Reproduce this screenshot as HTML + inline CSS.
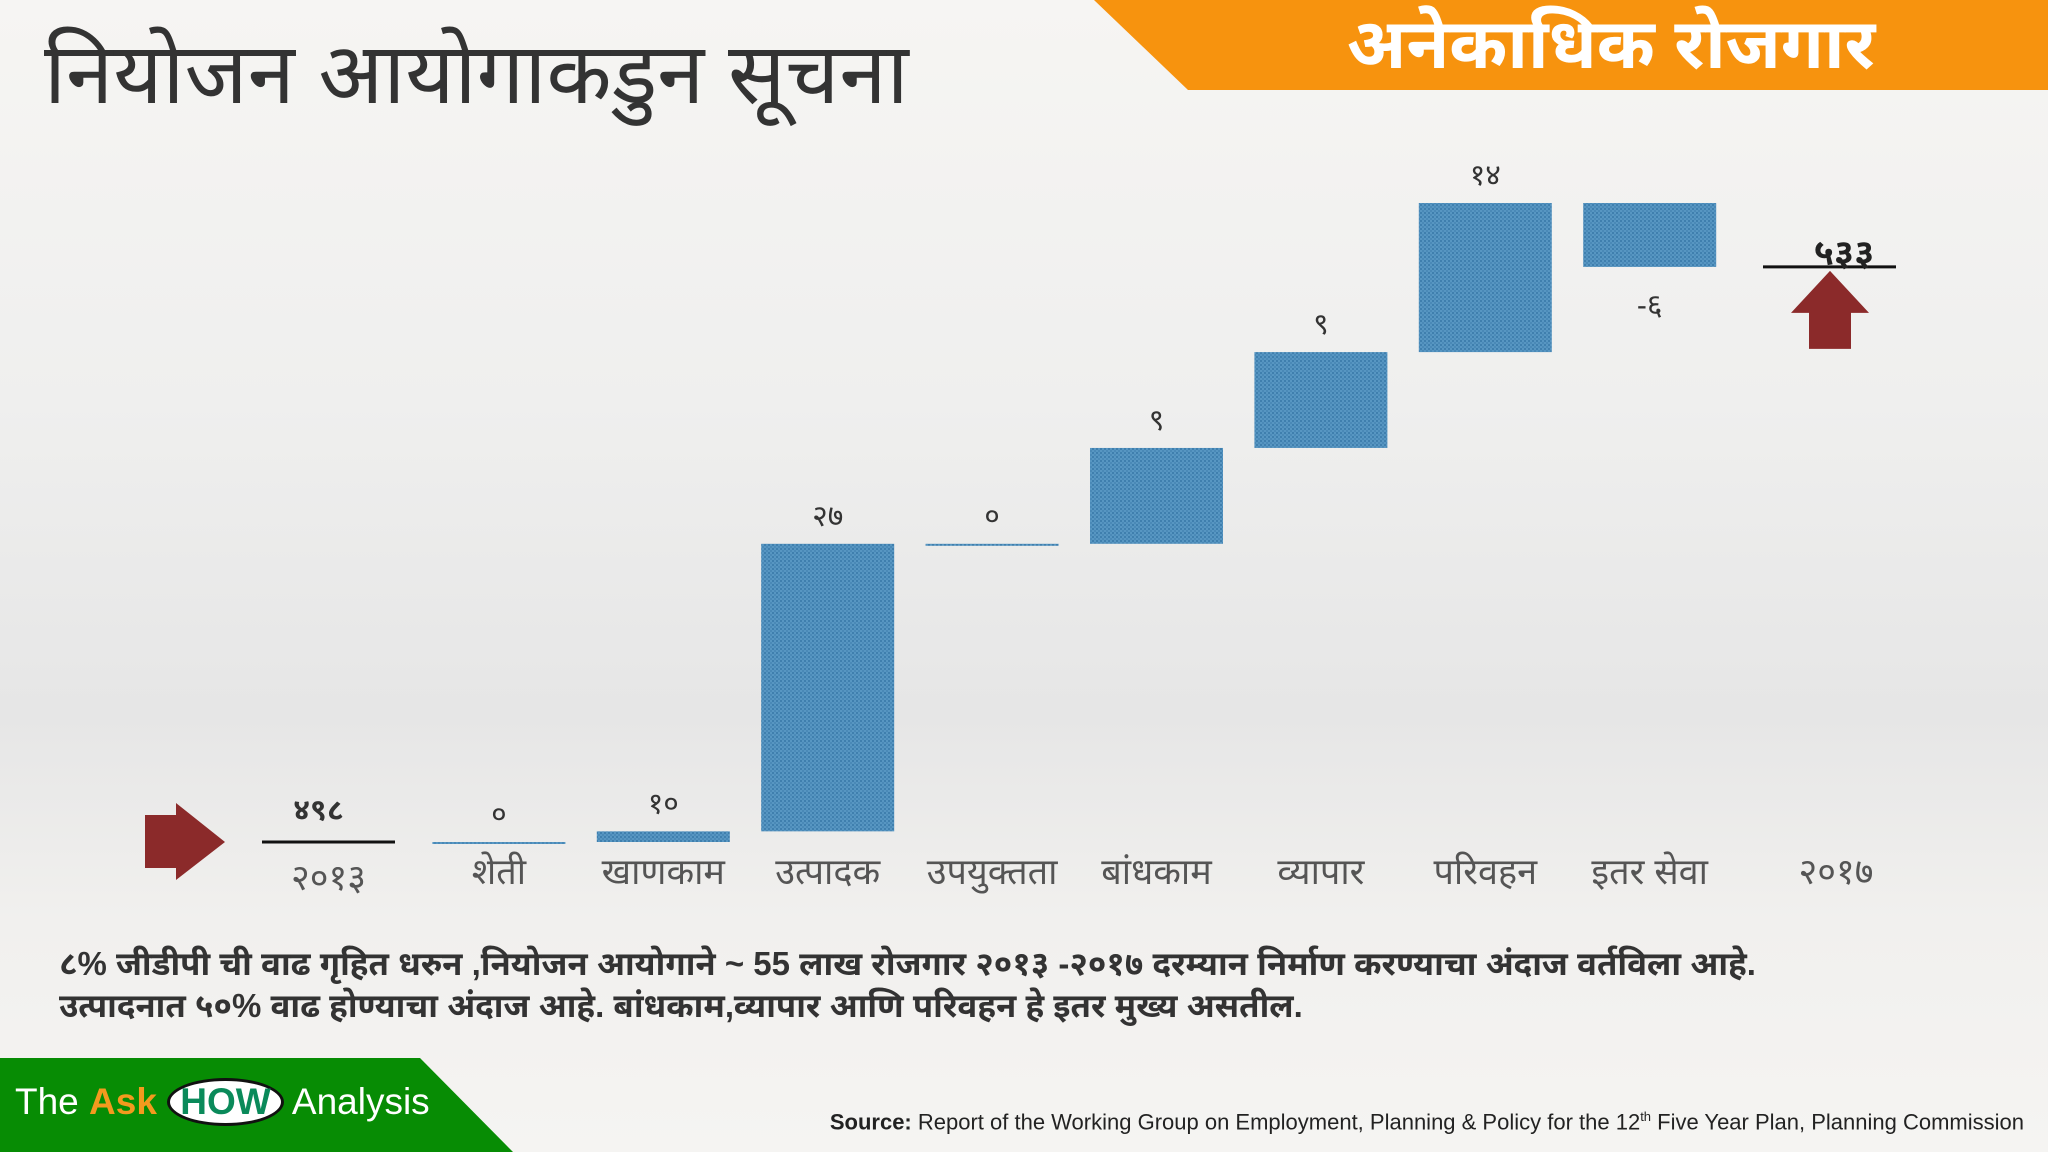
<!DOCTYPE html>
<html><head><meta charset="utf-8">
<style>
html,body{margin:0;padding:0}
body{width:2048px;height:1152px;overflow:hidden;position:relative;
background:linear-gradient(to bottom,#f6f5f3 0%,#efefee 35%,#e6e6e6 62%,#f1f0ee 80%,#f5f4f2 100%);
font-family:"Liberation Sans","Noto Sans Devanagari","Lohit Devanagari","FreeSans","Noto Sans CJK SC",sans-serif;}
.abs{position:absolute}
</style></head><body>
<div class="abs" style="left:44px;top:26px;font-size:85px;color:#333;white-space:nowrap">नियोजन आयोगाकडुन सूचना</div>
<svg class="abs" style="left:0;top:0" width="2048" height="1152">
<defs>
<pattern id="tex" width="4" height="4" patternUnits="userSpaceOnUse">
<rect width="4" height="4" fill="#5796c2"/>
<rect width="2" height="2" fill="#3f7fae"/>
<rect x="2" y="2" width="2" height="2" fill="#4a89b7"/>
</pattern>
</defs>
<polygon points="1094,0 2048,0 2048,90 1188,90" fill="#f7930e"/>
<text x="1611" y="68" font-size="70" font-weight="bold" fill="#fff" text-anchor="middle" font-family="Liberation Sans, Noto Sans Devanagari, FreeSans, sans-serif">अनेकाधिक रोजगार</text>
<polygon points="145,815 176,815 176,803 225,842 176,880 176,868 145,868" fill="#8b2a2a"/>
<g id="bars"></g>
<polygon points="0,1058 420,1058 513,1152 0,1152" fill="#078c04"/>
</svg>
<div class="abs" style="left:15px;top:1078px;font-size:37px;color:#fff;white-space:nowrap;font-family:'Liberation Sans',sans-serif">The <b style="color:#f39a1e">Ask</b> <span style="display:inline-block;background:#fff;color:#0a8a5a;border:3px solid #111;border-radius:50%;padding:0 10px;font-weight:bold">HOW</span> Analysis</div>
<div class="abs" style="left:59px;top:943px;font-size:33px;font-weight:bold;color:#333;line-height:42px;white-space:nowrap">८% जीडीपी ची वाढ गृहित धरुन ,नियोजन आयोगाने ~ 55 लाख रोजगार २०१३ -२०१७ दरम्यान निर्माण करण्याचा अंदाज वर्तविला आहे.<br>उत्पादनात ५०% वाढ होण्याचा अंदाज आहे. बांधकाम,व्यापार आणि परिवहन हे इतर मुख्य असतील.</div>
<div class="abs" style="right:24px;top:1109px;font-size:22px;color:#222;white-space:nowrap;font-family:'Liberation Sans',sans-serif"><b>Source:</b> Report of the Working Group on Employment, Planning &amp; Policy for the 12<sup style="font-size:13px">th</sup> Five Year Plan, Planning Commission</div>
<script>
const categories=["२०१३","शेती","खाणकाम","उत्पादक","उपयुक्तता","बांधकाम","व्यापार","परिवहन","इतर सेवा","२०१७"];
const startValue=498;
const deltas=[0,1,27,0,9,9,14,-6];
const valueLabels=["४९८","०","१०","२७","०","९","९","१४","-६","५३३"];
const NS="http://www.w3.org/2000/svg";
const g=document.getElementById('bars');
const x0=268,step=164.4,bw=133;
const yScale=v=>842-(v-startValue)*10.65;
const xPos=i=>i===0?262:x0+i*step;
function mk(tag,attrs){const e=document.createElementNS(NS,tag);for(const k in attrs)e.setAttribute(k,attrs[k]);g.appendChild(e);return e;}
function label(txt,x,y,opt){const t=mk('text',{x:x,y:y,'font-size':opt&&opt.fs||30,'text-anchor':'middle',fill:opt&&opt.fill||'#333','font-weight':opt&&opt.fw||'normal'});t.textContent=txt;return t;}
let l=mk('line',{x1:xPos(0),x2:xPos(0)+bw,y1:yScale(startValue),y2:yScale(startValue),stroke:'#111','stroke-width':3});


let t=label(valueLabels[0],xPos(0)+bw/2-10,yScale(startValue)-22,{fw:'bold'});


let cum=startValue;
deltas.forEach((d,k)=>{
  const i=k+1;const a=cum,b=cum+d;cum=b;
  const top=yScale(Math.max(a,b)),bot=yScale(Math.min(a,b));
  const h=Math.max(bot-top,2);
  const r=mk('rect',{x:xPos(i),y:top,width:bw,height:h,fill:'url(#tex)'});
  
  
  const ly=d<0?bot+48:top-18;
  const tl=label(valueLabels[i],xPos(i)+bw/2,ly,{});
  
  
});
const ie=categories.length-1;
const ye=yScale(cum);
const ex=1763;
l=mk('line',{x1:ex,x2:ex+133,y1:ye,y2:ye,stroke:'#111','stroke-width':3});


t=label(valueLabels[ie],1844,ye-2,{fw:'bold',fs:36,fill:'#222'});


const ax=1830;
const ar=mk('polygon',{points:`${ax-39},${ye+46} ${ax},${ye+4} ${ax+39},${ye+46} ${ax+21},${ye+46} ${ax+21},${ye+82} ${ax-21},${ye+82} ${ax-21},${ye+46}`,fill:'#8b2a2a'});


categories.forEach((c,i)=>{
  let cx=xPos(i)+bw/2;if(i===ie)cx=1836;
  const tc=label(c,cx,i===0?890:884,{fs:36,fill:'#555'});
  
  
});
</script>
</body></html>
